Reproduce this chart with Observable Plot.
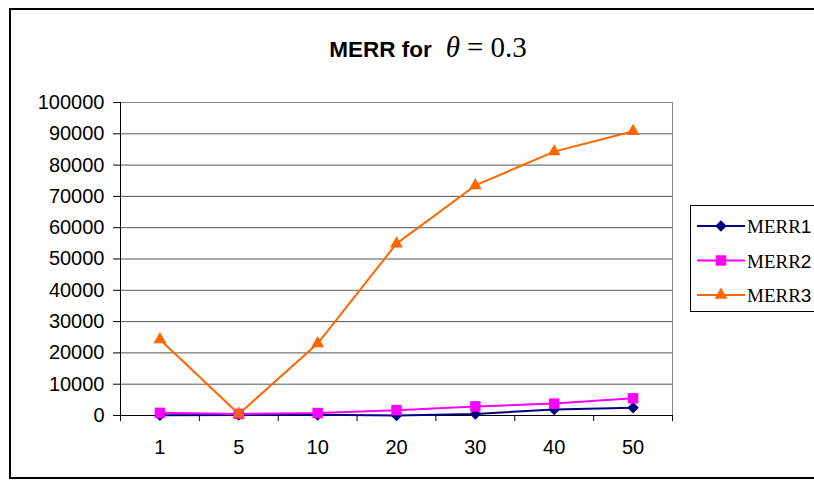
<!DOCTYPE html>
<html><head><meta charset="utf-8">
<script src="https://cdn.jsdelivr.net/npm/d3@7"></script>
<script src="https://cdn.jsdelivr.net/npm/@observablehq/plot@0.6"></script>
<style>
html,body{margin:0;padding:0;background:#fff;overflow:hidden;}
#wrap{position:relative;width:814px;height:486px;overflow:hidden;background:#fff;}
#wrap > svg{position:absolute;left:0;top:0;}
#outer{position:absolute;left:9px;top:8px;width:900px;height:467px;border:2px solid #000;}
</style>
</head><body>
<div id="wrap"></div>
<script>
const categories = ["1", "5", "10", "20", "30", "40", "50"];
const seriesNames = ["MERR1", "MERR2", "MERR3"];
const merr1 = [50, 150, 200, 0, 500, 1900, 2500];
const merr2 = [850, 500, 800, 1700, 2900, 3800, 5500];
const merr3 = [24300, 500, 23000, 54900, 73500, 84300, 90800];
const seriesValues = [merr1, merr2, merr3];
const colors = ["#000080", "#FF00FF", "#FF6600"];
const symbols = ["diamond2", "square", "triangle"];
const symbolR = [5.2, 5.9, 4.8];
const yTicks = d3.range(0, 100001, 10000);

const data = [];
seriesNames.forEach((s, k) => seriesValues[k].forEach((v, i) => data.push({series: s, i, cat: categories[i], value: v})));

const boundaries = d3.range(-0.5, categories.length, 1);

const marks = [
  Plot.gridY(yTicks, {stroke: "#555", strokeOpacity: 1}),
  Plot.frame({stroke: "#888"}),
  Plot.ruleX([-0.5], {stroke: "#000"}),
  Plot.ruleY([0], {stroke: "#000"}),
  Plot.axisY(yTicks, {tickSize: 7, tickPadding: 9, fontSize: 20, label: null, tickFormat: d3.format("d"), stroke: "#000", fill: "#000"}),
  Plot.axisX(boundaries, {tickSize: 6, tickFormat: () => "", label: null, stroke: "#000"}),
  Plot.axisX(d3.range(categories.length), {tickSize: 0, tickPadding: 24, fontSize: 20, label: null, tickFormat: i => categories[i], fill: "#000"})
];
seriesNames.forEach((s, k) => {
  const sub = data.filter(d => d.series === s);
  marks.push(Plot.line(sub, {x: "i", y: "value", stroke: colors[k], strokeWidth: 2}));
  marks.push(Plot.dot(sub, {x: "i", y: "value", symbol: () => symbols[k], fill: colors[k], r: symbolR[k], stroke: "none"}));
});

const chart = Plot.plot({
  width: 814, height: 486,
  marginLeft: 120, marginRight: 142, marginTop: 102, marginBottom: 71,
  x: {type: "linear", domain: [-0.5, categories.length - 0.5], label: null},
  y: {domain: [0, 100000], label: null},
  style: {background: "none", fontFamily: "'Liberation Sans', Arial, sans-serif", color: "#000"},
  marks
});
const wrap = document.getElementById("wrap");
wrap.appendChild(chart);

// Overlay: title and legend
const ov = d3.select(wrap).append("svg").attr("width", 814).attr("height", 486);
const t = ov.append("text").attr("x", 428).attr("y", 57).attr("text-anchor", "middle").attr("fill", "#000");
t.append("tspan").attr("font-family", "'Liberation Sans', Arial, sans-serif").attr("font-weight", "bold").attr("font-size", 22.5).text("MERR for");
t.append("tspan").attr("dx", 14).attr("font-family", "'Liberation Serif', 'Times New Roman', serif").attr("font-style", "italic").attr("font-size", 29).text("θ");
t.append("tspan").attr("dx", 7).attr("font-family", "'Liberation Serif', 'Times New Roman', serif").attr("font-size", 29).text("=");
t.append("tspan").attr("dx", 7).attr("font-family", "'Liberation Serif', 'Times New Roman', serif").attr("font-size", 29).text("0.3");

const lg = ov.append("g");
lg.append("rect").attr("x", 690.5).attr("y", 205.5).attr("width", 200).attr("height", 106).attr("fill", "#fff").attr("stroke", "#000");
const d3sym = {diamond2: d3.symbolDiamond2, square: d3.symbolSquare, triangle: d3.symbolTriangle};
seriesNames.forEach((s, k) => {
  const cy = 226 + k * 34.5;
  lg.append("line").attr("x1", 697).attr("x2", 745).attr("y1", cy).attr("y2", cy).attr("stroke", colors[k]).attr("stroke-width", 2);
  lg.append("path").attr("transform", `translate(721,${cy})`).attr("fill", colors[k])
    .attr("d", d3.symbol(d3sym[symbols[k]], symbolR[k] * symbolR[k] * Math.PI)());
  const tx = lg.append("text").attr("x", 747).attr("y", cy + 7).attr("fill", "#000").attr("font-size", 19);
  tx.append("tspan").attr("font-family", "'Liberation Serif', 'Times New Roman', serif").text(s.slice(0, 4));
  tx.append("tspan").attr("font-family", "'Liberation Sans', Arial, sans-serif").text(s.slice(4));
});

const outer = document.createElement("div");
outer.id = "outer";
wrap.appendChild(outer);
</script>
</body></html>
